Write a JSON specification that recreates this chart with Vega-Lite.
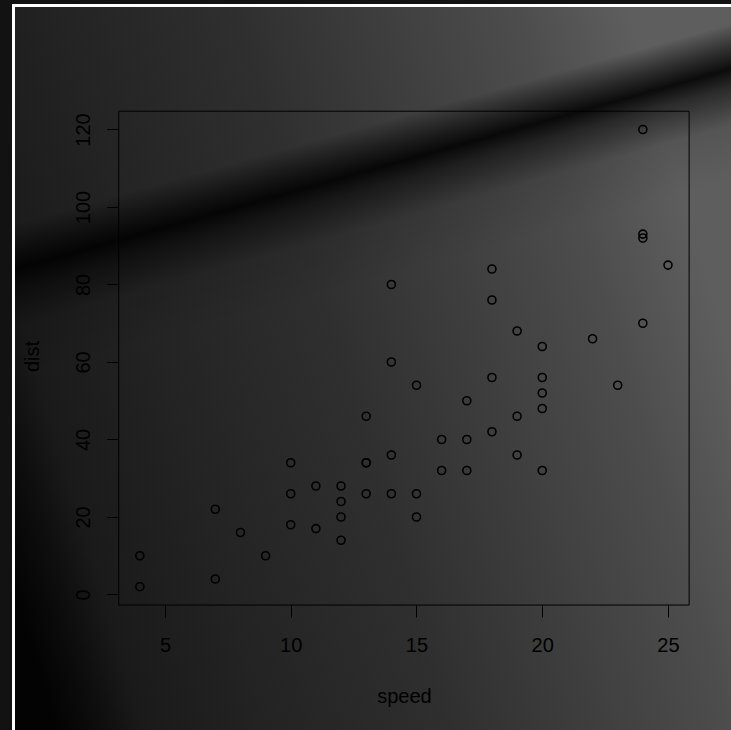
{
  "$schema": "https://vega.github.io/schema/vega-lite/v6.json",
  "autosize": {"type": "none"},
  "padding": {"left": 15, "top": 7, "right": 0, "bottom": 0},
  "width": 720,
  "height": 728,
  "background": "#121212",
  "config": {
    "view": {"stroke": "white", "strokeWidth": 6},
    "font": "Liberation Sans",
    "axis": {
      "domain": false,
      "grid": false,
      "tickColor": "#000000",
      "tickWidth": 1,
      "tickSize": 12,
      "labelColor": "#000000",
      "labelFontSize": 20,
      "labelFont": "Liberation Sans",
      "titleColor": "#000000",
      "titleFontSize": 20,
      "titleFont": "Liberation Sans",
      "titleFontWeight": "normal"
    }
  },
  "datasets": {
    "cars": [
      {"speed": 4, "dist": 2}, {"speed": 4, "dist": 10}, {"speed": 7, "dist": 4}, {"speed": 7, "dist": 22},
      {"speed": 8, "dist": 16}, {"speed": 9, "dist": 10}, {"speed": 10, "dist": 18}, {"speed": 10, "dist": 26},
      {"speed": 10, "dist": 34}, {"speed": 11, "dist": 17}, {"speed": 11, "dist": 28}, {"speed": 12, "dist": 14},
      {"speed": 12, "dist": 20}, {"speed": 12, "dist": 24}, {"speed": 12, "dist": 28}, {"speed": 13, "dist": 26},
      {"speed": 13, "dist": 34}, {"speed": 13, "dist": 34}, {"speed": 13, "dist": 46}, {"speed": 14, "dist": 26},
      {"speed": 14, "dist": 36}, {"speed": 14, "dist": 60}, {"speed": 14, "dist": 80}, {"speed": 15, "dist": 20},
      {"speed": 15, "dist": 26}, {"speed": 15, "dist": 54}, {"speed": 16, "dist": 32}, {"speed": 16, "dist": 40},
      {"speed": 17, "dist": 32}, {"speed": 17, "dist": 40}, {"speed": 17, "dist": 50}, {"speed": 18, "dist": 42},
      {"speed": 18, "dist": 56}, {"speed": 18, "dist": 76}, {"speed": 18, "dist": 84}, {"speed": 19, "dist": 36},
      {"speed": 19, "dist": 46}, {"speed": 19, "dist": 68}, {"speed": 20, "dist": 32}, {"speed": 20, "dist": 48},
      {"speed": 20, "dist": 52}, {"speed": 20, "dist": 56}, {"speed": 20, "dist": 64}, {"speed": 22, "dist": 66},
      {"speed": 23, "dist": 54}, {"speed": 24, "dist": 70}, {"speed": 24, "dist": 92}, {"speed": 24, "dist": 93},
      {"speed": 24, "dist": 120}, {"speed": 25, "dist": 85}
    ],
    "bg": [{"k": 1}]
  },
  "layer": [
    {
      "data": {"name": "bg"},
      "mark": {
        "type": "rect",
        "fill": {
          "gradient": "linear", "x1": 0, "y1": 0.8, "x2": 1, "y2": 0.5,
          "stops": [
            {"offset": 0, "color": "#030303"},
            {"offset": 0.06, "color": "#0e0e0e"},
            {"offset": 0.11, "color": "#1a1a1a"},
            {"offset": 0.25, "color": "#222222"},
            {"offset": 0.5, "color": "#2f2f2f"},
            {"offset": 0.86, "color": "#4d4d4d"},
            {"offset": 1, "color": "#5e5e5e"}
          ]
        }
      },
      "encoding": {}
    },
    {
      "data": {"name": "bg"},
      "mark": {
        "type": "rect",
        "fill": {
          "gradient": "linear", "x1": 0.46, "y1": 0.0775, "x2": 0.54, "y2": 0.3665,
          "stops": [
            {"offset": 0, "color": "rgba(0,0,0,0)"},
            {"offset": 0.3, "color": "rgba(0,0,0,0)"},
            {"offset": 0.42, "color": "rgba(0,0,0,0.55)"},
            {"offset": 0.5, "color": "rgba(0,0,0,0.88)"},
            {"offset": 0.58, "color": "rgba(0,0,0,0.55)"},
            {"offset": 0.75, "color": "rgba(0,0,0,0.1)"},
            {"offset": 1, "color": "rgba(0,0,0,0)"}
          ]
        }
      },
      "encoding": {}
    },
    {
      "data": {"name": "cars"},
      "mark": {"type": "point", "shape": "circle", "filled": false, "stroke": "#000000", "strokeWidth": 1.6, "size": 64, "opacity": 1},
      "encoding": {
        "x": {
          "field": "speed", "type": "quantitative", "title": "speed",
          "scale": {"domain": [-0.964, 27.664], "nice": false, "zero": false},
          "axis": {"zindex": 5, "values": [5, 10, 15, 20, 25], "offset": -130, "labelPadding": 18, "titlePadding": 31, "titleX": 389, "titleAlign": "center", "labelFlush": false, "labelOverlap": false}
        },
        "y": {
          "field": "dist", "type": "quantitative", "title": "dist",
          "scale": {"domain": [-36.26, 151.61], "nice": false, "zero": false},
          "axis": {"zindex": 5, "values": [0, 20, 40, 60, 80, 100, 120], "offset": -103.7, "labelAngle": -90, "labelAlign": "center", "labelBaseline": "bottom", "labelPadding": 13, "titlePadding": 31, "titleY": 349, "titleAlign": "center", "labelFlush": false, "labelOverlap": false}
        }
      }
    },
    {
      "data": {"name": "bg"},
      "mark": {"type": "rect", "fill": null, "fillOpacity": 0, "stroke": "#000000", "strokeWidth": 1},
      "encoding": {
        "x": {"datum": 3.16, "type": "quantitative", "title": "speed"},
        "x2": {"datum": 25.84},
        "y": {"datum": -2.72, "type": "quantitative", "title": "dist"},
        "y2": {"datum": 124.72}
      }
    }
  ]
}
